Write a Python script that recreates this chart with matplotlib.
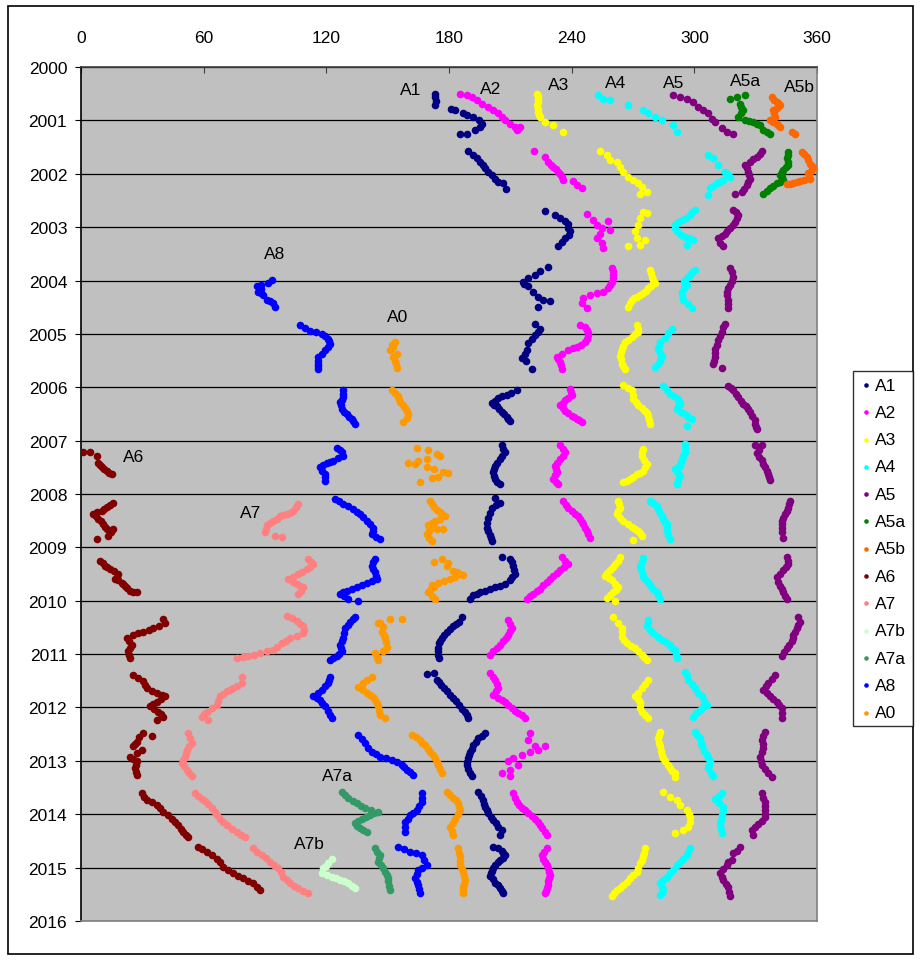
import matplotlib
matplotlib.use("Agg")
import matplotlib.pyplot as plt
from matplotlib.patches import Rectangle

plt.rcParams["font.family"] = ["Liberation Sans", "DejaVu Sans"]

# (longitude deg, year) for every feature, one row per yearly track
A1 = [
    (173.2, 2000.50), (173.2, 2000.57), (173.6, 2000.64), (173.2, 2000.71), (180.8, 2000.78), (183.0, 2000.81),
    (187.0, 2000.87), (188.6, 2000.90), (191.9, 2000.93), (194.5, 2001.00), (196.0, 2001.06), (195.2, 2001.12),
    (192.7, 2001.18), (188.6, 2001.25), (185.4, 2001.25),
    (189.5, 2001.58), (191.9, 2001.65), (193.5, 2001.71), (195.2, 2001.78), (196.8, 2001.84), (197.6, 2001.90),
    (199.2, 2001.96), (200.9, 2002.02), (202.5, 2002.09), (204.1, 2002.15), (206.6, 2002.18), (207.9, 2002.29),
    (227.0, 2002.69), (231.9, 2002.77), (234.3, 2002.83), (236.7, 2002.88), (238.0, 2002.95), (238.4, 2003.02),
    (239.2, 2003.08), (238.5, 2003.15), (236.7, 2003.21), (235.1, 2003.27), (233.5, 2003.36),
    (228.6, 2003.74), (224.5, 2003.83), (222.1, 2003.89), (218.8, 2003.96), (216.4, 2004.02), (216.8, 2004.06),
    (218.8, 2004.11), (221.3, 2004.21), (223.7, 2004.30), (226.1, 2004.36), (229.4, 2004.39), (223.7, 2004.49),
    (222.1, 2004.81), (224.5, 2004.90), (223.5, 2004.96), (222.0, 2005.03), (220.4, 2005.09), (218.8, 2005.18),
    (218.0, 2005.30), (217.0, 2005.38), (215.5, 2005.46), (217.5, 2005.50), (220.4, 2005.65),
    (213.1, 2006.06), (210.5, 2006.10), (208.2, 2006.14), (206.0, 2006.17), (204.1, 2006.20), (202.5, 2006.25),
    (200.9, 2006.29), (202.0, 2006.33), (203.3, 2006.36), (204.5, 2006.41), (205.8, 2006.46), (207.0, 2006.50),
    (208.2, 2006.55), (209.0, 2006.60), (209.8, 2006.64),
    (205.8, 2007.09), (206.5, 2007.16), (207.4, 2007.22), (206.0, 2007.28), (205.0, 2007.34), (203.5, 2007.41),
    (202.5, 2007.47), (202.0, 2007.53), (201.7, 2007.59), (202.0, 2007.66), (202.5, 2007.72), (203.5, 2007.77),
    (205.0, 2007.81),
    (202.5, 2008.07), (205.0, 2008.16), (203.0, 2008.21), (200.9, 2008.26), (200.0, 2008.35), (199.2, 2008.45),
    (198.6, 2008.55), (198.4, 2008.64), (199.2, 2008.70), (200.1, 2008.76), (200.5, 2008.82), (200.9, 2008.88),
    (205.8, 2009.18), (209.8, 2009.21), (211.0, 2009.28), (211.5, 2009.34), (212.0, 2009.42), (212.3, 2009.49),
    (211.0, 2009.56), (209.8, 2009.62), (207.5, 2009.68), (205.0, 2009.72), (202.5, 2009.75), (200.1, 2009.78),
    (197.5, 2009.81), (195.2, 2009.84), (193.5, 2009.87), (191.9, 2009.90), (190.3, 2009.97),
    (186.5, 2010.30), (185.0, 2010.40), (183.5, 2010.44), (182.1, 2010.48), (180.5, 2010.53), (178.9, 2010.58),
    (177.5, 2010.64), (176.4, 2010.70), (175.5, 2010.75), (175.2, 2010.80), (174.8, 2010.88), (174.5, 2010.95),
    (174.7, 2011.02), (175.0, 2011.08),
    (169.1, 2011.38), (172.4, 2011.36), (174.0, 2011.48), (175.0, 2011.53), (176.0, 2011.58), (177.5, 2011.64),
    (179.0, 2011.70), (180.5, 2011.76), (182.0, 2011.82), (183.5, 2011.88), (185.0, 2011.95), (186.5, 2012.02),
    (188.0, 2012.08), (189.0, 2012.14), (189.5, 2012.20),
    (197.6, 2012.48), (196.0, 2012.53), (194.4, 2012.58), (193.0, 2012.64), (191.9, 2012.70), (191.0, 2012.77),
    (190.3, 2012.83), (189.8, 2012.89), (189.5, 2012.95), (189.0, 2013.02), (188.6, 2013.08), (189.5, 2013.16),
    (190.3, 2013.23), (191.1, 2013.29),
    (194.4, 2013.58), (195.6, 2013.66), (196.8, 2013.73), (197.2, 2013.80), (197.6, 2013.86), (198.4, 2013.92),
    (199.2, 2013.98), (200.5, 2014.05), (201.7, 2014.11), (203.0, 2014.17), (204.1, 2014.23), (205.8, 2014.29),
    (205.0, 2014.39),
    (201.7, 2014.61), (203.8, 2014.64), (205.8, 2014.68), (206.6, 2014.72), (207.4, 2014.77), (206.2, 2014.82),
    (205.0, 2014.86), (203.8, 2014.90), (202.5, 2014.95), (201.7, 2015.00), (200.9, 2015.06), (200.5, 2015.11),
    (200.1, 2015.16), (201.3, 2015.22), (202.5, 2015.28), (203.8, 2015.33), (205.0, 2015.38), (205.8, 2015.43),
    (206.6, 2015.47),
]

A2 = [
    (185.4, 2000.50), (188.6, 2000.53), (191.1, 2000.57), (193.5, 2000.62), (196.0, 2000.70), (199.2, 2000.75),
    (201.7, 2000.81), (204.1, 2000.87), (205.8, 2000.93), (207.4, 2001.00), (209.8, 2001.06), (212.3, 2001.12),
    (214.7, 2001.12), (213.1, 2001.18),
    (221.7, 2001.58), (227.0, 2001.68), (228.6, 2001.78), (229.8, 2001.83), (231.0, 2001.87), (232.2, 2001.92),
    (233.5, 2001.96), (234.3, 2002.01), (235.1, 2002.06), (235.9, 2002.12), (240.8, 2002.14), (242.5, 2002.21),
    (244.9, 2002.26),
    (247.3, 2002.76), (250.6, 2002.87), (252.2, 2002.96), (254.7, 2003.02), (257.9, 2002.88), (258.8, 2003.05),
    (253.9, 2003.12), (252.2, 2003.21), (254.7, 2003.30), (255.5, 2003.40),
    (259.6, 2003.77), (260.0, 2003.83), (260.4, 2003.89), (260.0, 2003.96), (259.6, 2004.02), (258.8, 2004.08),
    (257.9, 2004.14), (255.5, 2004.21), (252.2, 2004.24), (249.0, 2004.27), (245.7, 2004.33), (244.9, 2004.42),
    (247.3, 2004.52),
    (244.1, 2004.84), (246.5, 2004.88), (247.3, 2004.93), (248.0, 2004.98), (248.2, 2005.03), (247.5, 2005.09),
    (246.5, 2005.15), (244.5, 2005.20), (242.5, 2005.24), (240.5, 2005.27), (238.4, 2005.31), (235.1, 2005.37),
    (232.7, 2005.43), (233.5, 2005.48), (234.3, 2005.53), (234.7, 2005.59), (235.1, 2005.65),
    (239.2, 2006.03), (239.6, 2006.09), (240.0, 2006.15), (238.4, 2006.20), (236.7, 2006.24), (235.5, 2006.29),
    (234.3, 2006.34), (235.5, 2006.39), (236.7, 2006.44), (238.4, 2006.48), (240.0, 2006.53), (241.2, 2006.56),
    (242.5, 2006.59), (243.7, 2006.62), (244.9, 2006.66),
    (234.3, 2007.09), (235.5, 2007.15), (236.7, 2007.22), (235.5, 2007.28), (234.3, 2007.34), (233.0, 2007.41),
    (231.9, 2007.47), (232.3, 2007.53), (232.7, 2007.59), (231.8, 2007.65), (231.0, 2007.72), (232.2, 2007.77),
    (233.5, 2007.81),
    (235.9, 2008.13), (237.1, 2008.20), (238.4, 2008.26), (240.0, 2008.32), (241.6, 2008.38), (243.0, 2008.42),
    (244.1, 2008.47), (245.0, 2008.52), (245.7, 2008.57), (246.5, 2008.63), (247.3, 2008.69), (248.1, 2008.75),
    (249.0, 2008.82),
    (235.1, 2009.18), (236.7, 2009.25), (238.4, 2009.31), (236.3, 2009.37), (234.3, 2009.43), (232.7, 2009.48),
    (231.0, 2009.53), (229.4, 2009.59), (227.8, 2009.65), (226.1, 2009.71), (224.5, 2009.78), (222.9, 2009.82),
    (221.3, 2009.87), (219.6, 2009.92), (218.0, 2009.97),
    (209.0, 2010.36), (210.0, 2010.44), (210.7, 2010.51), (210.0, 2010.57), (209.0, 2010.64), (207.8, 2010.70),
    (206.6, 2010.76), (205.0, 2010.82), (203.3, 2010.89), (201.7, 2010.95), (200.1, 2011.01),
    (200.1, 2011.36), (201.3, 2011.42), (202.5, 2011.48), (203.3, 2011.56), (204.1, 2011.64), (202.9, 2011.70),
    (201.7, 2011.76), (204.1, 2011.83), (205.8, 2011.86), (207.4, 2011.89), (209.0, 2011.95), (210.7, 2012.01),
    (212.3, 2012.06), (213.9, 2012.11), (215.5, 2012.15), (217.2, 2012.20),
    (219.6, 2012.48), (218.8, 2012.61), (222.1, 2012.73), (227.0, 2012.73), (223.7, 2012.80), (219.6, 2012.83),
    (215.5, 2012.89), (211.5, 2012.95), (209.0, 2013.01), (213.9, 2013.08), (209.8, 2013.17), (205.8, 2013.23),
    (209.8, 2013.29),
    (211.5, 2013.61), (212.3, 2013.69), (213.1, 2013.77), (214.3, 2013.83), (215.5, 2013.89), (217.2, 2013.93),
    (218.8, 2013.98), (220.4, 2014.03), (222.1, 2014.08), (223.3, 2014.14), (224.5, 2014.20), (225.7, 2014.26),
    (227.0, 2014.33), (227.8, 2014.39),
    (227.8, 2014.64), (226.5, 2014.70), (225.3, 2014.77), (226.1, 2014.83), (227.0, 2014.89), (227.8, 2014.95),
    (228.6, 2015.01), (229.0, 2015.08), (229.4, 2015.14), (229.0, 2015.20), (228.6, 2015.26), (228.2, 2015.33),
    (227.8, 2015.39), (227.4, 2015.44), (227.0, 2015.48),
]

A3 = [
    (222.9, 2000.50), (223.3, 2000.55), (223.7, 2000.59), (223.3, 2000.66), (222.9, 2000.72), (223.3, 2000.78),
    (223.7, 2000.84), (224.1, 2000.89), (224.5, 2000.93), (227.0, 2001.03), (231.0, 2001.09), (235.9, 2001.21),
    (253.9, 2001.58), (257.1, 2001.65), (258.8, 2001.74), (262.0, 2001.78), (263.6, 2001.87), (265.3, 2001.96),
    (267.7, 2002.06), (270.2, 2002.12), (272.6, 2002.18), (274.2, 2002.24), (276.7, 2002.34), (273.4, 2002.37),
    (275.0, 2002.71), (276.7, 2002.74), (273.4, 2002.83), (272.6, 2002.96), (271.0, 2003.08), (271.8, 2003.21),
    (273.4, 2003.33), (275.9, 2003.24), (267.7, 2003.36),
    (278.3, 2003.80), (278.7, 2003.86), (279.1, 2003.93), (280.0, 2003.99), (280.8, 2004.05), (279.0, 2004.10),
    (277.5, 2004.14), (276.3, 2004.19), (275.0, 2004.24), (273.4, 2004.27), (271.8, 2004.30), (270.6, 2004.33),
    (269.4, 2004.36), (268.5, 2004.42), (267.7, 2004.49),
    (271.8, 2004.84), (272.2, 2004.90), (272.6, 2004.96), (271.0, 2005.01), (269.4, 2005.06), (267.7, 2005.11),
    (266.1, 2005.16), (265.3, 2005.22), (264.5, 2005.28), (264.0, 2005.34), (263.6, 2005.41), (264.0, 2005.48),
    (264.5, 2005.56), (265.3, 2005.61), (266.1, 2005.66),
    (265.3, 2005.96), (267.3, 2006.01), (269.4, 2006.06), (269.8, 2006.14), (270.2, 2006.22), (271.4, 2006.28),
    (272.6, 2006.34), (274.2, 2006.39), (275.9, 2006.44), (276.7, 2006.48), (277.5, 2006.53), (277.9, 2006.61),
    (278.3, 2006.69),
    (275.0, 2007.15), (274.6, 2007.21), (274.2, 2007.28), (275.4, 2007.36), (276.7, 2007.44), (276.0, 2007.50),
    (275.0, 2007.56), (273.4, 2007.60), (271.8, 2007.63), (270.2, 2007.68), (268.5, 2007.72), (266.9, 2007.75),
    (265.3, 2007.78),
    (262.8, 2008.13), (263.2, 2008.19), (263.6, 2008.26), (262.8, 2008.32), (262.0, 2008.38), (263.6, 2008.45),
    (265.3, 2008.51), (267.3, 2008.56), (269.4, 2008.61), (271.0, 2008.65), (272.6, 2008.69), (273.4, 2008.74),
    (274.2, 2008.79), (270.2, 2008.86),
    (263.6, 2009.18), (262.4, 2009.25), (261.2, 2009.31), (260.0, 2009.37), (258.8, 2009.43), (257.5, 2009.48),
    (256.3, 2009.53), (258.0, 2009.58), (259.6, 2009.62), (261.2, 2009.69), (262.8, 2009.75), (261.6, 2009.80),
    (260.4, 2009.84), (258.8, 2009.89), (257.1, 2009.94), (261.2, 2010.00),
    (260.4, 2010.31), (262.4, 2010.41), (264.5, 2010.51), (264.5, 2010.59), (264.5, 2010.67), (265.7, 2010.73),
    (266.9, 2010.79), (269.0, 2010.84), (271.0, 2010.89), (272.6, 2010.95), (274.2, 2011.01), (275.4, 2011.06),
    (276.7, 2011.11),
    (277.5, 2011.48), (275.9, 2011.56), (274.2, 2011.64), (272.6, 2011.72), (271.0, 2011.79), (272.2, 2011.84),
    (273.4, 2011.89), (273.4, 2011.95), (273.4, 2012.01), (274.6, 2012.08), (275.9, 2012.14), (277.5, 2012.20),
    (283.2, 2012.45), (282.8, 2012.51), (282.4, 2012.58), (282.8, 2012.66), (283.2, 2012.73), (283.6, 2012.81),
    (284.0, 2012.89), (284.8, 2012.95), (285.7, 2013.01), (286.9, 2013.08), (288.1, 2013.14), (289.3, 2013.19),
    (290.6, 2013.23), (290.6, 2013.31),
    (284.8, 2013.59), (288.1, 2013.68), (291.4, 2013.74), (293.0, 2013.83), (296.3, 2013.93), (297.5, 2013.99),
    (297.9, 2014.05), (298.0, 2014.15), (297.1, 2014.24), (294.6, 2014.30), (290.6, 2014.36),
    (275.9, 2014.64), (275.4, 2014.72), (275.0, 2014.79), (274.2, 2014.86), (273.4, 2014.92), (272.6, 2015.00),
    (271.8, 2015.08), (270.2, 2015.14), (268.5, 2015.20), (266.9, 2015.27), (265.3, 2015.33), (263.6, 2015.38),
    (262.0, 2015.42), (260.8, 2015.48), (259.6, 2015.54),
]

A4 = [
    (253.1, 2000.53), (255.5, 2000.59), (258.8, 2000.62), (267.7, 2000.72), (275.0, 2000.81), (277.5, 2000.87),
    (280.8, 2000.93), (284.0, 2001.00), (289.7, 2001.09), (291.4, 2001.21),
    (306.9, 2001.64), (309.3, 2001.71), (311.7, 2001.84), (315.0, 2001.96), (316.2, 2002.01), (317.5, 2002.06),
    (314.2, 2002.12), (312.6, 2002.15), (310.9, 2002.18), (309.3, 2002.22), (307.7, 2002.27), (306.9, 2002.39),
    (300.3, 2002.68), (299.0, 2002.72), (297.9, 2002.77), (295.8, 2002.82), (293.8, 2002.87), (292.2, 2002.91),
    (290.6, 2002.96), (290.6, 2003.02), (291.4, 2003.08), (293.4, 2003.14), (295.4, 2003.18), (297.5, 2003.21),
    (299.5, 2003.24), (296.3, 2003.33),
    (300.3, 2003.80), (299.0, 2003.84), (297.9, 2003.89), (296.7, 2003.94), (295.4, 2003.99), (295.0, 2004.03),
    (296.3, 2004.08), (295.0, 2004.14), (293.8, 2004.21), (293.8, 2004.28), (294.6, 2004.36), (296.7, 2004.44),
    (298.7, 2004.52),
    (288.9, 2004.90), (287.3, 2004.99), (285.7, 2005.07), (283.2, 2005.16), (282.8, 2005.22), (282.4, 2005.28),
    (283.2, 2005.35), (284.0, 2005.41), (283.6, 2005.45), (283.2, 2005.50), (282.0, 2005.56), (280.8, 2005.62),
    (284.8, 2005.97), (286.5, 2006.05), (288.1, 2006.12), (290.0, 2006.17), (292.2, 2006.22), (292.6, 2006.27),
    (293.0, 2006.31), (292.2, 2006.36), (291.4, 2006.41), (293.4, 2006.46), (295.4, 2006.50), (297.1, 2006.55),
    (298.7, 2006.59), (296.3, 2006.72),
    (295.4, 2007.06), (295.4, 2007.14), (295.4, 2007.22), (294.6, 2007.28), (293.8, 2007.34), (293.4, 2007.40),
    (293.0, 2007.47), (291.8, 2007.50), (290.6, 2007.53), (291.8, 2007.60), (293.0, 2007.66), (292.2, 2007.73),
    (291.4, 2007.81),
    (278.3, 2008.13), (280.0, 2008.17), (281.6, 2008.22), (282.4, 2008.28), (283.2, 2008.35), (284.0, 2008.41),
    (284.8, 2008.47), (285.7, 2008.52), (286.5, 2008.57), (286.5, 2008.63), (286.5, 2008.69), (287.3, 2008.77),
    (288.1, 2008.85),
    (275.0, 2009.20), (274.2, 2009.27), (273.4, 2009.34), (273.8, 2009.40), (274.2, 2009.46), (275.0, 2009.53),
    (275.9, 2009.59), (277.1, 2009.65), (278.3, 2009.71), (280.0, 2009.78), (281.6, 2009.84), (282.4, 2009.90),
    (283.2, 2009.97),
    (277.5, 2010.36), (277.1, 2010.42), (276.7, 2010.48), (278.3, 2010.55), (280.0, 2010.61), (282.0, 2010.67),
    (284.0, 2010.73), (286.1, 2010.78), (288.1, 2010.83), (289.3, 2010.88), (290.6, 2010.92), (291.0, 2011.00),
    (291.4, 2011.08),
    (295.4, 2011.33), (296.3, 2011.40), (297.1, 2011.48), (298.7, 2011.56), (300.3, 2011.64), (302.0, 2011.72),
    (303.6, 2011.79), (304.8, 2011.87), (306.1, 2011.95), (304.4, 2012.00), (302.8, 2012.04), (301.0, 2012.11),
    (299.5, 2012.17),
    (300.3, 2012.45), (301.5, 2012.51), (302.8, 2012.58), (303.2, 2012.66), (303.6, 2012.73), (304.8, 2012.81),
    (306.1, 2012.89), (306.9, 2012.95), (307.7, 2013.01), (307.3, 2013.08), (306.9, 2013.14), (308.1, 2013.22),
    (309.3, 2013.29),
    (313.4, 2013.61), (312.0, 2013.66), (310.1, 2013.71), (312.0, 2013.79), (314.2, 2013.86), (313.8, 2013.94),
    (313.4, 2014.02), (313.0, 2014.10), (312.6, 2014.18), (313.0, 2014.27), (313.4, 2014.36),
    (297.9, 2014.64), (297.1, 2014.70), (296.3, 2014.77), (294.6, 2014.83), (293.0, 2014.89), (291.4, 2014.96),
    (289.7, 2015.04), (288.1, 2015.10), (286.5, 2015.17), (284.8, 2015.23), (283.2, 2015.29), (284.0, 2015.36),
    (284.8, 2015.42), (284.0, 2015.47), (283.2, 2015.51),
]

A5 = [
    (289.7, 2000.53), (293.0, 2000.56), (296.3, 2000.59), (299.5, 2000.65), (302.0, 2000.75), (304.4, 2000.81),
    (306.9, 2000.87), (308.5, 2000.97), (310.1, 2001.03), (313.4, 2001.15), (315.8, 2001.21), (319.1, 2001.25),
    (333.0, 2001.58), (332.0, 2001.63), (330.5, 2001.68), (328.9, 2001.73), (327.2, 2001.78), (324.8, 2001.84),
    (325.6, 2001.90), (326.4, 2001.96), (326.8, 2002.03), (327.2, 2002.09), (326.4, 2002.15), (325.6, 2002.21),
    (324.4, 2002.28), (323.2, 2002.34), (319.9, 2002.37),
    (319.1, 2002.68), (320.3, 2002.72), (321.5, 2002.77), (320.7, 2002.83), (319.9, 2002.90), (318.7, 2002.96),
    (317.5, 2003.02), (316.2, 2003.07), (315.0, 2003.12), (313.4, 2003.16), (311.7, 2003.21), (312.6, 2003.29),
    (314.2, 2003.36),
    (317.5, 2003.77), (318.3, 2003.85), (319.1, 2003.93), (318.3, 2004.00), (317.5, 2004.08), (316.6, 2004.14),
    (315.8, 2004.21), (316.2, 2004.28), (316.6, 2004.36), (316.6, 2004.44), (316.6, 2004.52),
    (315.0, 2004.81), (314.2, 2004.88), (313.4, 2004.96), (312.6, 2005.04), (311.7, 2005.12), (310.9, 2005.20),
    (310.1, 2005.28), (310.1, 2005.36), (310.1, 2005.44), (309.7, 2005.50), (309.3, 2005.56), (313.4, 2005.63),
    (316.6, 2005.97), (317.9, 2006.01), (319.1, 2006.06), (320.3, 2006.12), (321.5, 2006.19), (322.8, 2006.25),
    (324.0, 2006.31), (325.2, 2006.36), (326.4, 2006.41), (327.2, 2006.47), (328.1, 2006.53), (329.7, 2006.61),
    (329.7, 2006.69), (330.1, 2006.74), (330.5, 2006.78),
    (329.7, 2007.09), (333.0, 2007.09), (331.7, 2007.17), (330.5, 2007.24), (331.7, 2007.30), (333.0, 2007.37),
    (333.8, 2007.43), (334.6, 2007.49), (335.4, 2007.56), (336.2, 2007.62), (336.6, 2007.68), (337.0, 2007.74),
    (346.8, 2008.13), (346.4, 2008.19), (346.0, 2008.26), (345.2, 2008.32), (344.4, 2008.38), (343.5, 2008.45),
    (342.7, 2008.51), (342.7, 2008.57), (342.7, 2008.64), (342.7, 2008.72), (343.5, 2008.82),
    (345.2, 2009.18), (345.6, 2009.25), (346.0, 2009.31), (344.8, 2009.37), (343.5, 2009.43), (341.9, 2009.50),
    (340.3, 2009.56), (341.1, 2009.64), (341.9, 2009.72), (342.7, 2009.78), (343.5, 2009.84), (344.4, 2009.91),
    (345.2, 2009.97),
    (350.9, 2010.31), (351.7, 2010.39), (350.9, 2010.45), (350.1, 2010.51), (349.2, 2010.58), (348.4, 2010.64),
    (348.0, 2010.70), (347.6, 2010.76), (346.4, 2010.83), (345.2, 2010.89), (344.0, 2010.96), (342.7, 2011.04),
    (339.5, 2011.39), (337.9, 2011.47), (336.2, 2011.54), (335.0, 2011.60), (333.8, 2011.67), (335.4, 2011.73),
    (337.0, 2011.79), (338.7, 2011.84), (340.3, 2011.89), (341.5, 2011.95), (342.7, 2012.01), (342.7, 2012.10),
    (342.7, 2012.20),
    (334.6, 2012.45), (333.8, 2012.53), (333.0, 2012.61), (333.4, 2012.68), (333.8, 2012.76), (333.0, 2012.84),
    (332.1, 2012.92), (332.5, 2013.00), (333.0, 2013.08), (334.6, 2013.16), (336.2, 2013.23), (337.9, 2013.31),
    (333.0, 2013.61), (333.8, 2013.69), (334.6, 2013.77), (334.6, 2013.85), (334.6, 2013.93), (334.6, 2013.99),
    (334.6, 2014.05), (333.0, 2014.12), (331.3, 2014.18), (329.7, 2014.24), (328.1, 2014.30), (328.9, 2014.39),
    (322.3, 2014.62), (320.7, 2014.68), (319.1, 2014.73), (318.3, 2014.86), (316.6, 2014.90), (315.8, 2014.95),
    (314.2, 2015.03), (312.6, 2015.11), (313.4, 2015.17), (314.2, 2015.24), (315.4, 2015.30), (316.6, 2015.36),
    (317.0, 2015.45), (317.5, 2015.54),
]

A5a = [
    (317.5, 2000.59), (320.7, 2000.56), (324.8, 2000.53), (322.3, 2000.69), (323.0, 2000.75), (324.0, 2000.81),
    (322.9, 2000.87), (321.5, 2000.93), (324.8, 2001.00), (326.8, 2001.02), (328.9, 2001.03), (330.5, 2001.06),
    (332.1, 2001.09), (333.8, 2001.18), (335.4, 2001.22), (337.0, 2001.25),
    (346.0, 2001.59), (345.6, 2001.65), (345.2, 2001.71), (345.6, 2001.78), (346.0, 2001.84), (344.8, 2001.88),
    (343.5, 2001.93), (342.7, 2001.97), (341.9, 2002.02), (342.7, 2002.07), (343.5, 2002.12), (342.0, 2002.15),
    (340.3, 2002.18), (338.7, 2002.22), (337.0, 2002.27), (335.4, 2002.32), (333.8, 2002.37),
]

A5b = [
    (337.8, 2000.56), (339.0, 2000.61), (340.3, 2000.65), (341.0, 2000.68), (341.9, 2000.72), (340.3, 2000.77),
    (338.7, 2000.81), (339.0, 2000.87), (339.5, 2000.93), (338.3, 2000.97), (337.0, 2001.00), (338.7, 2001.03),
    (340.3, 2001.06), (341.0, 2001.09), (341.9, 2001.12), (347.6, 2001.21), (349.3, 2001.25),
    (352.5, 2001.59), (353.7, 2001.63), (355.0, 2001.68), (355.8, 2001.74), (356.6, 2001.81), (357.4, 2001.86),
    (358.2, 2001.90), (357.0, 2001.95), (355.8, 2001.99), (356.2, 2002.04), (356.6, 2002.09), (353.7, 2002.12),
    (351.7, 2002.14), (350.0, 2002.16), (348.4, 2002.18), (346.8, 2002.19), (345.2, 2002.20),
]

A6 = [
    (1.1, 2007.21), (4.4, 2007.22), (7.7, 2007.28), (8.5, 2007.41), (9.3, 2007.45), (10.1, 2007.50),
    (11.3, 2007.53), (12.6, 2007.56), (13.8, 2007.60), (15.0, 2007.63),
    (15.8, 2008.16), (14.2, 2008.20), (12.6, 2008.25), (11.3, 2008.28), (10.1, 2008.31), (8.0, 2008.34),
    (6.0, 2008.38), (7.3, 2008.42), (8.5, 2008.47), (9.7, 2008.51), (10.9, 2008.56), (11.7, 2008.61),
    (12.6, 2008.66), (15.8, 2008.66), (14.6, 2008.72), (13.4, 2008.78), (7.7, 2008.84),
    (9.3, 2009.25), (10.5, 2009.29), (11.7, 2009.34), (12.9, 2009.37), (14.2, 2009.41), (16.2, 2009.45),
    (18.3, 2009.50), (17.5, 2009.55), (16.6, 2009.59), (18.3, 2009.62), (19.9, 2009.66), (20.7, 2009.69),
    (21.5, 2009.72), (22.7, 2009.77), (24.0, 2009.81), (25.6, 2009.83), (27.2, 2009.84),
    (40.3, 2010.34), (41.1, 2010.42), (38.0, 2010.47), (35.4, 2010.51), (33.0, 2010.55), (30.5, 2010.58),
    (28.0, 2010.61), (25.6, 2010.64), (22.3, 2010.70), (23.6, 2010.76), (24.8, 2010.83), (24.0, 2010.89),
    (23.2, 2010.95), (23.6, 2011.02), (24.0, 2011.08),
    (25.6, 2011.39), (28.0, 2011.45), (30.5, 2011.51), (31.3, 2011.58), (32.1, 2011.64), (34.6, 2011.69),
    (37.0, 2011.73), (39.5, 2011.76), (41.1, 2011.79), (39.0, 2011.84), (37.0, 2011.89), (35.4, 2011.93),
    (33.8, 2011.98), (35.8, 2012.03), (37.8, 2012.08), (39.0, 2012.13), (40.3, 2012.17), (37.0, 2012.23),
    (34.6, 2012.54), (30.5, 2012.48), (28.5, 2012.56), (27.2, 2012.64), (26.4, 2012.69), (25.6, 2012.73),
    (29.7, 2012.79), (27.2, 2012.85), (24.0, 2012.92), (25.6, 2012.96), (27.2, 2013.01), (26.8, 2013.08),
    (26.4, 2013.14), (26.8, 2013.20), (27.2, 2013.26),
    (29.7, 2013.61), (30.9, 2013.67), (32.1, 2013.73), (34.6, 2013.78), (37.0, 2013.83), (38.6, 2013.89),
    (40.3, 2013.95), (42.4, 2014.02), (44.4, 2014.08), (46.0, 2014.14), (47.6, 2014.20), (48.8, 2014.27),
    (50.1, 2014.33), (51.3, 2014.38), (52.5, 2014.42),
    (57.4, 2014.61), (59.4, 2014.66), (61.5, 2014.70), (64.0, 2014.77), (66.4, 2014.83), (68.0, 2014.90),
    (69.6, 2014.98), (72.0, 2015.04), (74.5, 2015.11), (77.0, 2015.16), (79.4, 2015.20), (81.9, 2015.25),
    (84.3, 2015.29), (86.0, 2015.36), (87.6, 2015.42),
]

A7 = [
    (106.3, 2008.19), (105.0, 2008.25), (103.9, 2008.31), (102.2, 2008.35), (100.6, 2008.38), (99.0, 2008.40),
    (97.3, 2008.42), (95.7, 2008.46), (94.1, 2008.50), (92.5, 2008.55), (90.8, 2008.59), (90.4, 2008.65),
    (90.0, 2008.72), (94.9, 2008.78), (98.2, 2008.81),
    (111.2, 2009.22), (112.4, 2009.27), (113.6, 2009.31), (112.0, 2009.36), (110.4, 2009.41), (108.3, 2009.46),
    (106.3, 2009.50), (103.9, 2009.55), (101.4, 2009.59), (103.5, 2009.64), (105.5, 2009.69), (107.1, 2009.72),
    (108.8, 2009.75), (107.5, 2009.81), (106.3, 2009.87),
    (100.6, 2010.28), (103.0, 2010.33), (105.5, 2010.38), (107.1, 2010.43), (108.8, 2010.47), (109.2, 2010.54),
    (108.8, 2010.61), (105.5, 2010.66), (102.2, 2010.70), (100.2, 2010.75), (98.2, 2010.79), (96.0, 2010.86),
    (94.1, 2010.92), (91.0, 2010.95), (87.6, 2010.98), (84.7, 2011.01), (81.9, 2011.04), (79.0, 2011.06),
    (76.1, 2011.08),
    (78.6, 2011.42), (78.6, 2011.54), (76.5, 2011.59), (74.5, 2011.64), (72.9, 2011.67), (71.3, 2011.70),
    (69.6, 2011.75), (68.0, 2011.79), (67.2, 2011.87), (66.4, 2011.95), (64.0, 2012.01), (61.5, 2012.08),
    (60.2, 2012.12), (59.0, 2012.17), (62.3, 2012.23),
    (52.5, 2012.48), (53.3, 2012.57), (54.1, 2012.67), (52.9, 2012.73), (51.7, 2012.79), (51.3, 2012.86),
    (50.9, 2012.92), (50.0, 2012.98), (49.2, 2013.04), (50.5, 2013.10), (51.7, 2013.17), (52.9, 2013.23),
    (54.1, 2013.29),
    (55.8, 2013.61), (57.4, 2013.66), (59.0, 2013.71), (60.6, 2013.75), (62.3, 2013.80), (63.9, 2013.88),
    (65.5, 2013.96), (66.7, 2014.02), (68.0, 2014.08), (69.6, 2014.14), (71.3, 2014.20), (73.7, 2014.27),
    (76.1, 2014.33), (78.2, 2014.38), (80.2, 2014.42),
    (84.3, 2014.64), (86.3, 2014.70), (88.4, 2014.76), (90.4, 2014.82), (92.5, 2014.89), (94.5, 2014.95),
    (96.5, 2015.01), (97.7, 2015.09), (99.0, 2015.17), (100.6, 2015.23), (102.2, 2015.29), (104.2, 2015.34),
    (106.3, 2015.39), (108.8, 2015.44), (111.2, 2015.48),
]

A7b = [
    (122.6, 2014.83), (121.0, 2014.92), (120.0, 2014.97), (118.5, 2015.01), (117.7, 2015.11), (120.2, 2015.14),
    (122.6, 2015.17), (124.6, 2015.20), (126.7, 2015.23), (128.8, 2015.26), (130.8, 2015.29), (132.4, 2015.34),
    (134.0, 2015.39),
]

A7a = [
    (127.5, 2013.58), (129.2, 2013.64), (130.8, 2013.70), (132.8, 2013.75), (134.8, 2013.79), (136.9, 2013.84),
    (138.9, 2013.89), (142.0, 2013.92), (145.4, 2013.95), (143.4, 2013.98), (141.4, 2014.01), (139.3, 2014.05),
    (137.3, 2014.08), (135.6, 2014.12), (134.0, 2014.17), (135.2, 2014.22), (136.5, 2014.26), (138.1, 2014.30),
    (139.7, 2014.33),
    (143.8, 2014.64), (145.0, 2014.70), (146.3, 2014.76), (145.8, 2014.82), (145.4, 2014.89), (146.6, 2014.95),
    (147.9, 2015.01), (148.7, 2015.08), (149.5, 2015.14), (149.9, 2015.20), (150.3, 2015.26), (150.7, 2015.34),
    (151.1, 2015.42),
]

A8 = [
    (93.3, 2003.99), (91.6, 2004.05), (88.0, 2004.08), (85.9, 2004.11), (88.0, 2004.16), (86.7, 2004.21),
    (88.0, 2004.24), (89.2, 2004.27), (90.8, 2004.36), (92.5, 2004.39), (94.1, 2004.42), (94.9, 2004.49),
    (107.1, 2004.84), (109.5, 2004.89), (112.0, 2004.94), (114.8, 2004.97), (117.7, 2005.00), (119.4, 2005.04),
    (121.0, 2005.09), (121.4, 2005.14), (121.8, 2005.19), (120.6, 2005.25), (119.4, 2005.31), (117.7, 2005.37),
    (116.1, 2005.44), (116.1, 2005.50), (116.1, 2005.56), (116.1, 2005.61), (116.1, 2005.66),
    (128.3, 2006.06), (128.3, 2006.12), (128.3, 2006.19), (127.5, 2006.24), (126.7, 2006.28), (127.0, 2006.34),
    (127.5, 2006.41), (128.7, 2006.46), (130.0, 2006.50), (131.2, 2006.55), (132.4, 2006.59), (133.2, 2006.64),
    (134.0, 2006.69),
    (125.1, 2007.13), (126.5, 2007.17), (127.5, 2007.22), (128.3, 2007.28), (125.9, 2007.33), (123.4, 2007.38),
    (121.8, 2007.40), (120.2, 2007.41), (118.5, 2007.46), (116.9, 2007.50), (118.0, 2007.56), (119.4, 2007.63),
    (119.4, 2007.69), (119.4, 2007.75),
    (124.2, 2008.09), (126.2, 2008.14), (128.3, 2008.19), (130.8, 2008.23), (133.2, 2008.28), (134.8, 2008.33),
    (136.5, 2008.38), (138.1, 2008.44), (139.7, 2008.50), (141.4, 2008.56), (143.0, 2008.63), (142.6, 2008.69),
    (142.2, 2008.75), (144.3, 2008.80), (146.3, 2008.84),
    (143.8, 2009.22), (143.0, 2009.28), (142.2, 2009.34), (143.0, 2009.40), (143.8, 2009.47), (144.2, 2009.53),
    (144.6, 2009.59), (142.2, 2009.63), (139.7, 2009.66), (137.3, 2009.70), (134.8, 2009.75), (132.4, 2009.78),
    (130.0, 2009.81), (128.3, 2009.84), (126.7, 2009.87), (128.5, 2009.92), (130.8, 2009.96), (135.7, 2010.00),
    (134.0, 2010.31), (132.8, 2010.35), (131.6, 2010.39), (130.4, 2010.45), (129.1, 2010.51), (128.7, 2010.60),
    (128.3, 2010.70), (127.5, 2010.76), (126.7, 2010.83), (127.1, 2010.89), (127.5, 2010.95), (126.3, 2011.00),
    (125.1, 2011.04), (123.4, 2011.08), (121.8, 2011.11),
    (121.8, 2011.42), (121.4, 2011.48), (121.0, 2011.54), (119.4, 2011.60), (117.7, 2011.67), (115.7, 2011.72),
    (113.6, 2011.78), (115.3, 2011.82), (116.9, 2011.86), (118.1, 2011.92), (119.4, 2011.98), (120.6, 2012.06),
    (121.8, 2012.14), (122.6, 2012.20),
    (135.7, 2012.51), (137.3, 2012.59), (138.9, 2012.67), (140.5, 2012.75), (142.2, 2012.83), (144.2, 2012.88),
    (146.3, 2012.92), (149.1, 2012.95), (152.0, 2012.98), (154.5, 2013.03), (156.9, 2013.08), (158.1, 2013.12),
    (159.3, 2013.17), (161.0, 2013.21), (162.6, 2013.26),
    (166.6, 2013.61), (166.6, 2013.69), (166.6, 2013.77), (165.4, 2013.85), (164.2, 2013.93), (162.6, 2013.97),
    (160.9, 2014.02), (159.7, 2014.08), (158.5, 2014.14), (158.5, 2014.24), (158.5, 2014.33),
    (155.2, 2014.61), (158.0, 2014.65), (160.9, 2014.70), (163.8, 2014.73), (166.6, 2014.76), (167.8, 2014.85),
    (169.1, 2014.95), (167.0, 2015.00), (165.0, 2015.04), (164.2, 2015.12), (163.4, 2015.20), (164.2, 2015.27),
    (165.0, 2015.33), (165.4, 2015.40), (165.8, 2015.48),
]

A0 = [
    (153.6, 2005.16), (152.0, 2005.21), (152.4, 2005.24), (151.1, 2005.31), (154.4, 2005.38), (152.8, 2005.44),
    (153.6, 2005.50), (154.0, 2005.57), (154.4, 2005.63),
    (152.0, 2006.06), (153.6, 2006.11), (155.2, 2006.16), (155.6, 2006.22), (156.0, 2006.28), (157.3, 2006.33),
    (158.5, 2006.38), (159.3, 2006.44), (160.1, 2006.50), (159.3, 2006.58), (157.7, 2006.66),
    (164.2, 2007.14), (169.9, 2007.17), (174.0, 2007.25), (175.6, 2007.28), (169.1, 2007.34), (165.0, 2007.38),
    (160.1, 2007.41), (163.4, 2007.44), (169.1, 2007.50), (172.4, 2007.53), (177.2, 2007.59), (179.7, 2007.61),
    (174.8, 2007.69), (171.5, 2007.70), (165.8, 2007.78),
    (170.7, 2008.13), (171.5, 2008.19), (172.4, 2008.25), (174.0, 2008.30), (175.6, 2008.34), (176.8, 2008.37),
    (178.1, 2008.41), (175.6, 2008.46), (173.2, 2008.50), (171.5, 2008.55), (169.9, 2008.59), (172.0, 2008.62),
    (174.0, 2008.66), (177.2, 2008.66), (170.3, 2008.70), (169.1, 2008.75), (170.3, 2008.82), (171.5, 2008.88),
    (176.4, 2009.22), (172.4, 2009.28), (179.7, 2009.29), (178.9, 2009.34), (182.1, 2009.44), (183.7, 2009.47),
    (185.4, 2009.50), (187.0, 2009.52), (183.0, 2009.56), (180.5, 2009.59), (177.7, 2009.63), (174.8, 2009.66),
    (171.5, 2009.70), (172.4, 2009.75), (170.7, 2009.80), (169.9, 2009.84), (171.5, 2009.91), (173.2, 2009.97),
    (145.4, 2010.41), (151.1, 2010.34), (156.9, 2010.34), (146.3, 2010.42), (147.5, 2010.50), (147.1, 2010.58),
    (148.3, 2010.64), (148.7, 2010.70), (149.1, 2010.78), (149.5, 2010.86), (149.1, 2010.91), (147.9, 2010.95),
    (143.8, 2010.98), (144.6, 2011.05), (145.4, 2011.11),
    (142.2, 2011.42), (139.7, 2011.48), (137.7, 2011.55), (135.7, 2011.61), (136.9, 2011.64), (138.1, 2011.67),
    (139.7, 2011.72), (141.4, 2011.76), (142.6, 2011.81), (143.8, 2011.86), (144.6, 2011.92), (145.4, 2011.98),
    (145.8, 2012.06), (146.3, 2012.14), (148.7, 2012.19),
    (161.7, 2012.51), (163.8, 2012.56), (165.8, 2012.61), (167.0, 2012.66), (168.3, 2012.70), (169.5, 2012.77),
    (170.7, 2012.83), (172.0, 2012.89), (173.2, 2012.95), (174.0, 2013.02), (174.8, 2013.08), (175.6, 2013.15),
    (176.4, 2013.23),
    (178.9, 2013.58), (180.5, 2013.64), (182.1, 2013.70), (183.3, 2013.74), (184.6, 2013.79), (185.0, 2013.86),
    (185.4, 2013.92), (184.2, 2014.00), (182.9, 2014.08), (181.7, 2014.16), (180.5, 2014.23), (181.3, 2014.31),
    (182.1, 2014.39),
    (184.6, 2014.64), (185.0, 2014.72), (185.4, 2014.79), (185.4, 2014.87), (185.4, 2014.95), (186.2, 2015.02),
    (187.0, 2015.08), (187.4, 2015.15), (187.8, 2015.23), (187.4, 2015.30), (187.0, 2015.36), (187.0, 2015.42),
    (187.0, 2015.48),
]

names = ["A1", "A2", "A3", "A4", "A5", "A5a", "A5b", "A6", "A7", "A7b", "A7a", "A8", "A0"]
tracks = [A1, A2, A3, A4, A5, A5a, A5b, A6, A7, A7b, A7a, A8, A0]
colors = ["#000080", "#FF00FF", "#FFFF00", "#00FFFF", "#800080", "#008000", "#FF6600",
          "#800000", "#FF8080", "#CCFFCC", "#339966", "#0000FF", "#FF9900"]

x_ticks = [0, 60, 120, 180, 240, 300, 360]
y_ticks = list(range(2000, 2017))

fig = plt.figure(figsize=(9.23, 9.62), dpi=100)
ax = fig.add_axes([0.0878, 0.0416, 0.7974, 0.8877])
ax.set_facecolor("#C0C0C0")

for name, pts, c in zip(names, tracks, colors):
    xs = [p[0] for p in pts]
    ys = [p[1] for p in pts]
    ax.scatter(xs, ys, s=30, color=c, linewidths=0, label=name, zorder=3)

ax.set_xlim(0, 360)
ax.set_ylim(2016, 2000)
ax.set_xticks(x_ticks)
ax.set_yticks(y_ticks)
ax.xaxis.tick_top()
ax.tick_params(axis="x", direction="in", length=4, pad=16, labelsize=12.5, color="#404040")
ax.tick_params(axis="y", direction="out", length=4, pad=6, labelsize=12.5)
ax.yaxis.grid(True, color="black", linewidth=0.9)
ax.set_axisbelow(True)

ax.spines["left"].set_color("black")
ax.spines["top"].set_color("#404040")
ax.spines["right"].set_color("#808080")
ax.spines["bottom"].set_color("#808080")
for s in ax.spines.values():
    s.set_linewidth(1.2)

# feature names next to their tracks
tags = [("A1", 161.4, 2000.42), ("A2", 200.1, 2000.40), ("A3", 233.5, 2000.32), ("A4", 261.6, 2000.29),
        ("A5", 289.7, 2000.29), ("A5a", 324.8, 2000.25), ("A5b", 351.2, 2000.36), ("A8", 94.9, 2003.50),
        ("A0", 154.8, 2004.67), ("A6", 25.5, 2007.29), ("A7", 82.7, 2008.34), ("A7a", 125.3, 2013.28),
        ("A7b", 111.6, 2014.54)]
for t, x, y in tags:
    ax.text(x, y, t, fontsize=12.5, ha="center", va="center", zorder=4)

leg = fig.legend(loc="upper left", bbox_to_anchor=(0.924, 0.613), borderaxespad=0,
                 fontsize=12.5, frameon=True, fancybox=False, edgecolor="black",
                 markerscale=0.6, handletextpad=0.15, handlelength=0.8, labelspacing=0.70,
                 borderpad=0.35)
leg.get_frame().set_linewidth(1.0)

fig.patches.append(Rectangle((8 / 923, 1 - 955 / 962), 905 / 923, 948 / 962, transform=fig.transFigure,
                             fill=False, edgecolor="black", linewidth=1.2))

fig.savefig("out.png", dpi=100)
